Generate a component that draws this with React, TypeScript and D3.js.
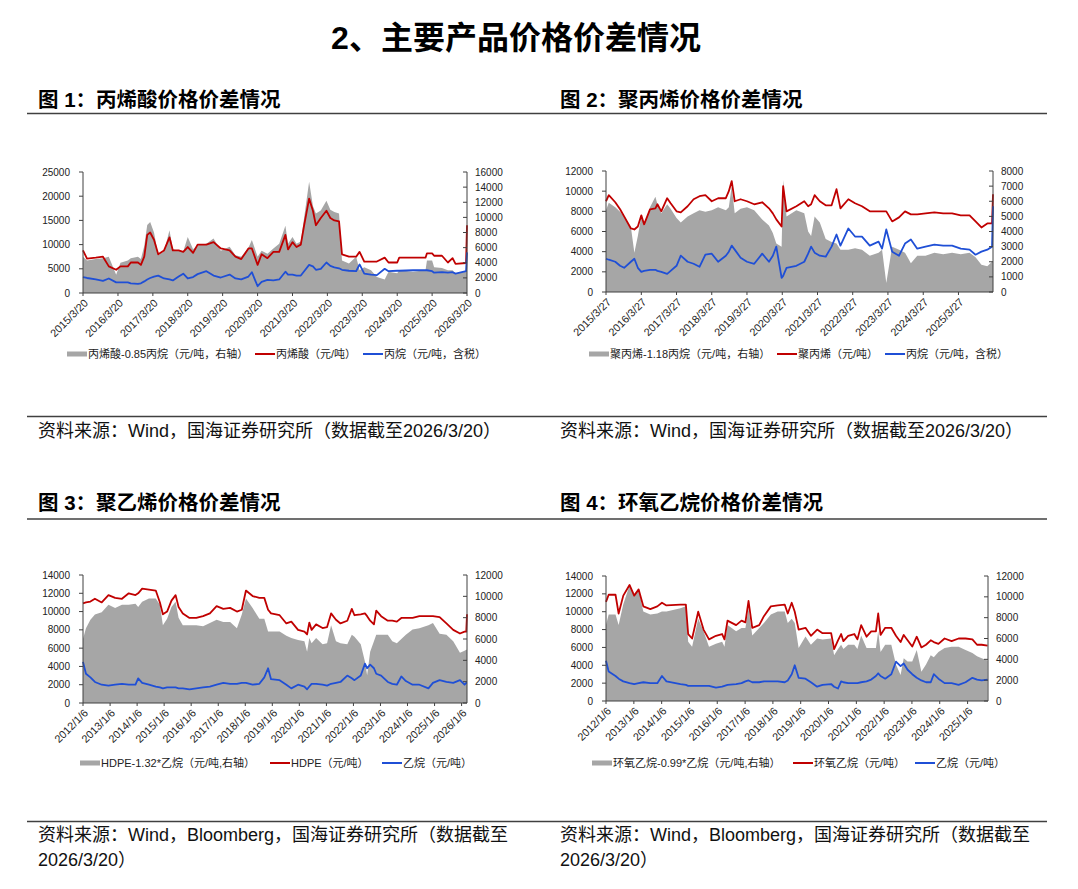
import React from "react";
import * as d3 from "d3";

// 图1：丙烯酸
const aaDates = ["2015-03-20","2015-05-01","2015-08-01","2015-10-15","2015-12-15","2016-03-01","2016-04-15","2016-07-01","2016-08-01","2016-10-15","2016-11-15","2016-12-20","2017-01-20","2017-02-20","2017-04-01","2017-05-15","2017-07-15","2017-09-10","2017-10-15","2017-12-15","2018-02-01","2018-03-20","2018-05-15","2018-07-01","2018-10-01","2018-12-15","2019-03-01","2019-06-01","2019-08-01","2019-10-01","2019-12-15","2020-01-20","2020-03-20","2020-05-01","2020-07-01","2020-09-01","2020-11-01","2021-01-05","2021-02-01","2021-03-20","2021-05-01","2021-06-15","2021-07-20","2021-09-10","2021-10-20","2021-11-20","2022-01-10","2022-03-10","2022-04-20","2022-06-01","2022-07-20","2022-08-20","2022-11-01","2023-01-15","2023-02-20","2023-04-10","2023-06-20","2023-08-20","2023-11-10","2023-12-20","2024-03-20","2024-04-10","2024-09-01","2025-01-10","2025-01-25","2025-03-20","2025-04-10","2025-07-01","2025-09-01","2025-10-20","2025-11-20","2026-03-10","2026-03-20"];
const aaPrice = [8800,7100,7300,7500,5500,4800,5500,5500,6300,6300,5800,7500,12000,12500,11000,8000,8800,11500,8800,8800,8500,9500,8300,10000,10000,10500,9200,8800,7500,7000,9200,9200,5800,8000,7200,8500,8500,12000,9000,10500,9500,10000,14000,19500,17000,14000,15500,17000,15500,15000,14800,8000,7500,7500,8500,6500,6500,6500,7300,6300,6300,7300,7300,7300,8200,8200,7700,7700,6300,7200,6000,6200,14000];
const aaPropane = [3300,3100,2800,2500,3000,2200,2200,2200,2000,1900,2000,2400,2800,3100,3400,3600,3000,2800,2600,3400,4000,3000,3300,3900,4500,3600,3200,3800,3000,2800,3400,4300,1400,2300,2700,2600,2800,4400,3800,3800,3600,3600,4500,5800,5500,4800,5000,6300,5600,5300,5100,4800,4600,4500,5900,4000,3800,3700,5000,4500,4600,4600,4700,4700,4700,4500,4200,4300,4200,4300,4000,4500,8400];
const aaSpread = [4800,4300,4500,4600,4800,2400,4000,4300,4600,4800,4500,6200,9000,9400,8000,5000,5500,8300,5800,5600,5500,7400,5800,6300,6500,7200,5600,6100,5000,4800,6000,7000,4800,5600,5200,5900,6500,8900,6500,7400,6500,6800,10000,14700,11500,10500,10900,12200,11000,10700,10500,4300,3900,4800,3000,3400,3000,2100,1800,2800,2600,3000,2800,3000,4300,4300,3400,3300,3000,3000,2600,2800,5600];
const aaTicks = ["2015/3/20","2016/3/20","2017/3/20","2018/3/20","2019/3/20","2020/3/20","2021/3/20","2022/3/20","2023/3/20","2024/3/20","2025/3/20","2026/3/20"];

// 图2：聚丙烯
const ppDates = ["2015-03-27","2015-04-25","2015-07-01","2015-08-20","2015-10-01","2015-12-10","2016-01-15","2016-02-20","2016-03-27","2016-04-25","2016-06-25","2016-08-20","2016-09-10","2016-10-20","2016-12-20","2017-01-25","2017-03-27","2017-05-10","2017-07-20","2017-09-20","2017-11-20","2018-01-20","2018-03-27","2018-06-01","2018-08-20","2018-09-20","2018-10-20","2018-11-20","2019-01-20","2019-03-27","2019-06-10","2019-09-01","2019-11-10","2019-12-20","2020-01-25","2020-03-20","2020-04-05","2020-05-10","2020-08-20","2020-11-10","2020-12-20","2021-01-20","2021-02-25","2021-04-20","2021-06-20","2021-08-20","2021-10-10","2021-11-20","2022-02-10","2022-04-20","2022-07-01","2022-09-20","2022-12-20","2023-01-25","2023-03-10","2023-05-10","2023-07-20","2023-09-20","2023-11-20","2024-01-25","2024-04-20","2024-07-20","2024-10-20","2025-01-20","2025-04-20","2025-07-20","2025-09-20","2025-11-20","2026-01-20","2026-03-10","2026-03-20"];
const ppPrice = [9000,9600,8900,8200,7500,6300,6200,6500,7600,6700,8200,8300,8700,8000,9300,8800,8000,7900,8500,9200,9500,9600,9000,9300,9300,10000,11000,9000,9200,9000,8700,8900,8300,7800,7200,6500,10500,8000,8500,9000,8500,8700,9600,9000,8600,8600,10200,8300,9200,8800,8500,8000,8000,8000,8000,7000,7400,8000,7700,7700,7800,7900,7800,7800,7600,7600,7000,6400,6800,6800,9700];
const ppPropane = [3300,3200,3000,2600,2400,3000,3300,2400,2000,2100,2200,2200,2100,2000,1800,2100,2600,3600,3000,2800,2500,3700,3800,3000,3600,4000,4600,4200,3400,3000,2800,3800,3000,3600,4500,1400,1600,2400,2600,3000,3800,4500,3900,3600,3500,4500,5700,4600,6300,5500,5500,4600,5000,4300,6200,4000,3600,4800,5200,4300,4500,4700,4600,4600,4300,4200,3700,4000,4200,4500,8500];
const ppSpread = [5400,5900,5600,5300,5000,4300,2600,3700,5000,4400,5600,6300,5800,5200,5800,5500,4900,4600,5000,5200,5400,5300,5400,5600,5400,5600,7000,5200,5500,5600,5400,4800,4400,3900,3200,3000,7400,5000,5400,5200,4000,3700,5000,4600,3500,3300,3200,2800,2800,2900,2800,2400,2600,2800,600,3000,2800,2600,1900,2400,2400,2600,2500,2600,2500,2600,2300,1800,1700,2000,2000];
const ppTicks = ["2015/3/27","2016/3/27","2017/3/27","2018/3/27","2019/3/27","2020/3/27","2021/3/27","2022/3/27","2023/3/27","2024/3/27","2025/3/27"];

// 图3：聚乙烯
const peDates = ["2012-01-06","2012-02-15","2012-04-15","2012-06-15","2012-09-15","2012-12-15","2013-03-15","2013-06-15","2013-09-15","2013-12-15","2014-01-20","2014-03-15","2014-06-15","2014-09-15","2014-11-10","2014-12-20","2015-02-15","2015-04-15","2015-06-10","2015-07-20","2015-09-15","2015-12-15","2016-03-15","2016-06-15","2016-09-15","2016-12-15","2017-03-15","2017-06-15","2017-09-15","2017-11-20","2018-01-15","2018-04-15","2018-07-15","2018-09-20","2018-11-10","2018-12-20","2019-04-15","2019-07-15","2019-09-20","2019-12-20","2020-03-15","2020-04-20","2020-05-20","2020-06-20","2020-08-20","2020-11-15","2021-01-15","2021-03-10","2021-05-15","2021-07-15","2021-10-15","2021-12-15","2022-01-20","2022-04-15","2022-06-10","2022-07-10","2022-08-20","2022-10-10","2022-11-10","2023-01-15","2023-04-15","2023-06-15","2023-08-15","2023-10-15","2023-12-15","2024-03-15","2024-06-15","2024-10-15","2024-12-15","2025-03-15","2025-06-15","2025-09-15","2025-12-15","2026-02-15","2026-03-10","2026-03-20"];
const pePrice = [10900,11000,11100,11400,11000,11800,11500,11400,12000,11800,12000,12500,12400,12300,11000,9700,10000,11200,11800,10500,9800,9300,9300,9500,9800,10600,10300,10400,10000,10200,12300,11700,11500,11500,10200,9800,9600,8700,8900,8000,7800,7500,8800,8000,8600,8200,8300,9800,9100,8700,9000,10300,9600,9700,9800,9500,9000,8600,10100,9500,9000,9000,8900,9300,9300,9300,9500,9500,9500,9400,8700,8000,7600,7800,7800,9700];
const peEthane = [4500,3200,2800,2300,2000,1900,2000,2100,2000,2000,2700,2200,2000,1800,1700,1600,1700,1700,1700,1600,1600,1500,1600,1700,1800,2000,2200,2100,2100,2200,2200,2000,2100,2800,3800,2600,2500,2000,1600,2000,1800,1500,1800,2100,2100,2000,1900,2100,2200,2300,3000,2700,2500,3000,4300,3800,4200,3800,3200,3000,2300,2100,2000,2900,2400,2000,2000,1600,2200,2500,2300,2200,2500,2000,2200,2200];
const peSpread = [6000,7000,7800,8300,8500,9200,8900,9200,9200,9300,9000,9500,9800,9800,9200,7300,7900,9000,9500,8000,7300,7300,7300,7200,7500,7800,7600,7600,7000,8300,9800,8900,7900,7900,6700,6700,6700,6300,6100,5900,5800,4800,6100,5600,6100,5500,5600,7300,5800,5600,5500,6400,6200,5500,3900,2600,4800,5800,6400,6400,6400,5800,5600,6000,6400,6900,7000,7300,7500,6500,6400,5800,4700,4900,5000,5000];
const peTicks = ["2012/1/6","2013/1/6","2014/1/6","2015/1/6","2016/1/6","2017/1/6","2018/1/6","2019/1/6","2020/1/6","2021/1/6","2022/1/6","2023/1/6","2024/1/6","2025/1/6","2026/1/6"];

// 图4：环氧乙烷
const eoDates = ["2012-01-06","2012-02-10","2012-05-10","2012-06-20","2012-08-20","2012-11-10","2013-01-10","2013-03-10","2013-05-10","2013-08-10","2013-11-10","2014-01-10","2014-03-10","2014-09-10","2014-11-20","2014-12-20","2015-02-10","2015-05-01","2015-07-10","2015-09-20","2015-12-20","2016-03-10","2016-04-10","2016-05-20","2016-09-10","2016-11-20","2017-01-10","2017-02-20","2017-04-10","2017-07-10","2017-09-10","2017-12-10","2018-03-10","2018-06-10","2018-07-20","2018-09-10","2018-10-20","2018-12-10","2019-03-10","2019-05-20","2019-08-10","2019-10-20","2020-02-10","2020-03-20","2020-05-10","2020-06-20","2020-07-20","2020-09-20","2020-12-10","2021-01-20","2021-03-10","2021-05-20","2021-07-20","2021-09-20","2021-10-20","2021-11-20","2022-01-20","2022-04-10","2022-06-10","2022-08-10","2022-09-20","2022-11-10","2023-01-10","2023-03-10","2023-05-10","2023-07-10","2023-09-10","2023-10-20","2023-12-20","2024-03-10","2024-06-10","2024-09-10","2024-12-10","2025-03-10","2025-05-10","2025-07-10","2025-09-25"];
const eoPrice = [11100,11900,11900,9800,11800,13000,11800,12500,10600,10300,10600,11000,10700,10800,10800,7500,7000,10000,8000,6900,7300,7500,6900,9000,8500,9000,8800,11200,8200,8500,9500,10600,10700,10800,9800,11000,10000,8000,8200,7300,8000,7600,7600,5800,6800,7500,6700,7300,7500,6900,8500,7200,7800,7800,9800,7400,8200,8200,7300,6600,7400,6800,6100,7200,6000,6300,6800,6600,6400,7000,6700,7000,7000,6900,6300,6300,6200];
const eoEthane = [4500,3300,2800,2500,2200,2000,1900,2000,2100,2000,2000,2800,2200,1900,1800,1700,1700,1700,1700,1700,1500,1600,1700,1800,1900,2000,2200,2300,2100,2100,2200,2200,2200,2100,2300,3000,4000,2600,2500,2100,1600,1800,1900,1600,1400,2200,2100,2000,2000,2000,2100,2200,2400,2800,3100,2800,2500,3000,4400,3900,4200,3500,3000,2600,2300,2100,2100,3000,2500,2000,2000,1800,2100,2600,2400,2300,2400];
const eoSpread = [7300,8300,8300,7300,9300,11100,10200,10700,8600,8300,8400,8600,8600,8900,9100,5700,5200,7900,6700,5200,5500,5700,5200,7300,6700,7000,7000,8900,6300,7000,7500,8300,8600,8600,7500,7900,7500,5100,6200,5400,6000,5900,6000,4400,5000,5400,5000,5400,5400,5000,6300,5100,5100,5100,6700,4700,5400,5400,3500,2500,4100,3800,3800,4900,2800,3500,4400,4200,4700,5100,5200,5200,4900,4600,4300,4100,3900];
const eoTicks = ["2012/1/6","2013/1/6","2014/1/6","2015/1/6","2016/1/6","2017/1/6","2018/1/6","2019/1/6","2020/1/6","2021/1/6","2022/1/6","2023/1/6","2024/1/6","2025/1/6"];

const RED = "#c00000";
const BLUE = "#1f4fd6";
const GRAY = "#a6a6a6";
const NUM_FONT = "'Liberation Sans', Arial, sans-serif";
const CJK_FONT = "'Liberation Sans', 'Noto Sans CJK SC', sans-serif";

const parseDay = d3.timeParse("%Y-%m-%d");
const parseTick = d3.timeParse("%Y/%m/%d");

const panels = [
  {
    dates: aaDates, red: aaPrice, blue: aaPropane, gray: aaSpread, ticks: aaTicks,
    domain: ["2015-03-20", "2026-03-20"], leftMax: 25000, leftStep: 5000, rightMax: 16000, rightStep: 2000,
    box: {x0: 83, x1: 467, y0: 172, y1: 293},
    legend: ["丙烯酸-0.85丙烷（元/吨，右轴）", "丙烯酸（元/吨）", "丙烷（元/吨，含税）"],
    legendX: [67, 255, 363], legendY: 354,
  },
  {
    dates: ppDates, red: ppPrice, blue: ppPropane, gray: ppSpread, ticks: ppTicks,
    domain: ["2015-03-27", "2026-03-20"], leftMax: 12000, leftStep: 2000, rightMax: 8000, rightStep: 1000,
    box: {x0: 606, x1: 993, y0: 171, y1: 292},
    legend: ["聚丙烯-1.18丙烷（元/吨，右轴）", "聚丙烯（元/吨）", "丙烷（元/吨，含税）"],
    legendX: [589, 777, 885], legendY: 354,
  },
  {
    dates: peDates, red: pePrice, blue: peEthane, gray: peSpread, ticks: peTicks,
    domain: ["2012-01-06", "2026-03-20"], leftMax: 14000, leftStep: 2000, rightMax: 12000, rightStep: 2000,
    box: {x0: 83, x1: 467, y0: 575, y1: 703},
    legend: ["HDPE-1.32*乙烷（元/吨,右轴）", "HDPE（元/吨）", "乙烷（元/吨）"],
    legendX: [80, 270, 382], legendY: 763,
  },
  {
    dates: eoDates, red: eoPrice, blue: eoEthane, gray: eoSpread, ticks: eoTicks,
    domain: ["2012-01-06", "2025-10-01"], leftMax: 14000, leftStep: 2000, rightMax: 12000, rightStep: 2000,
    box: {x0: 606, x1: 988, y0: 576, y1: 701},
    legend: ["环氧乙烷-0.99*乙烷（元/吨,右轴）", "环氧乙烷（元/吨）", "乙烷（元/吨）"],
    legendX: [592, 793, 915], legendY: 763,
  },
];

const Panel = ({cfg}: {cfg: any}) => {
  const {x0, x1, y0, y1} = cfg.box;
  const dates = cfg.dates.map(parseDay);
  const x = d3.scaleTime().domain(cfg.domain.map(parseDay)).range([x0, x1]);
  const yL = d3.scaleLinear().domain([0, cfg.leftMax]).range([y1, y0]);
  const yR = d3.scaleLinear().domain([0, cfg.rightMax]).range([y1, y0]);

  const area = d3.area<number>().x((d, i) => x(dates[i])).y0(yR(0)).y1(d => yR(d));
  const line = d3.line<number>().x((d, i) => x(dates[i])).y(d => yL(d));

  const leftTicks = d3.range(0, cfg.leftMax + 1, cfg.leftStep);
  const rightTicks = d3.range(0, cfg.rightMax + 1, cfg.rightStep);

  return (
    <g>
      <path d={area(cfg.gray) || ""} fill={GRAY}/>
      <path d={line(cfg.red) || ""} fill="none" stroke={RED} strokeWidth={1.8} strokeLinejoin="round"/>
      <path d={line(cfg.blue) || ""} fill="none" stroke={BLUE} strokeWidth={1.8} strokeLinejoin="round"/>

      {/* left axis */}
      <line x1={x0} x2={x0} y1={y0} y2={y1} stroke="#404040"/>
      {leftTicks.map(t => (
        <g key={"l" + t}>
          <line x1={x0 - 4} x2={x0} y1={yL(t)} y2={yL(t)} stroke="#404040"/>
          <text x={x0 - 13} y={yL(t)} dy="0.35em" textAnchor="end" fontSize={10} fontFamily={NUM_FONT} fill="#222">{t}</text>
        </g>
      ))}

      {/* right axis */}
      <line x1={x1} x2={x1} y1={y0} y2={y1} stroke="#404040"/>
      {rightTicks.map(t => (
        <g key={"r" + t}>
          <line x1={x1 - 4} x2={x1} y1={yR(t)} y2={yR(t)} stroke="#404040"/>
          <text x={x1 + 8} y={yR(t)} dy="0.35em" textAnchor="start" fontSize={10} fontFamily={NUM_FONT} fill="#222">{t}</text>
        </g>
      ))}

      {/* bottom axis */}
      <line x1={x0} x2={x1} y1={y1} y2={y1} stroke="#404040"/>
      {cfg.ticks.map((t: string) => {
        const tx = x(parseTick(t) as Date);
        return (
          <g key={t}>
            <line x1={tx} x2={tx} y1={y1} y2={y1 + 3} stroke="#404040"/>
            <text transform={`translate(${tx + 3},${y1 + 8}) rotate(-45)`} textAnchor="end" dy="0.35em"
                  fontSize={10.8} fontFamily={NUM_FONT} fill="#222">{t}</text>
          </g>
        );
      })}

      {/* legend */}
      <rect x={cfg.legendX[0]} y={cfg.legendY - 2.5} width={20} height={5} fill={GRAY}/>
      <text x={cfg.legendX[0] + 21} y={cfg.legendY} dy="0.35em" fontSize={11} fontFamily={CJK_FONT} fill="#222">{cfg.legend[0]}</text>
      <line x1={cfg.legendX[1]} x2={cfg.legendX[1] + 20} y1={cfg.legendY} y2={cfg.legendY} stroke={RED} strokeWidth={2}/>
      <text x={cfg.legendX[1] + 21} y={cfg.legendY} dy="0.35em" fontSize={11} fontFamily={CJK_FONT} fill="#222">{cfg.legend[1]}</text>
      <line x1={cfg.legendX[2]} x2={cfg.legendX[2] + 20} y1={cfg.legendY} y2={cfg.legendY} stroke={BLUE} strokeWidth={2}/>
      <text x={cfg.legendX[2] + 21} y={cfg.legendY} dy="0.35em" fontSize={11} fontFamily={CJK_FONT} fill="#222">{cfg.legend[2]}</text>
    </g>
  );
};

const App = () => {
  const titleFont = "'Liberation Sans', 'Noto Sans CJK SC', sans-serif";
  const src1 = "资料来源：Wind，国海证券研究所（数据截至2026/3/20）";
  const src2 = "资料来源：Wind，Bloomberg，国海证券研究所（数据截至";

  return (
    <svg width={1078} height={889} style={{position: "absolute", left: 0, top: 0, background: "#fff"}}>
      <text x={516} y={49} textAnchor="middle" fontSize={32} fontWeight={700} fontFamily={titleFont} fill="#000">2、主要产品价格价差情况</text>

      <text x={38} y={107} fontSize={20.5} fontWeight={700} fontFamily={titleFont} fill="#000">图 1：丙烯酸价格价差情况</text>
      <text x={560} y={107} fontSize={20.5} fontWeight={700} fontFamily={titleFont} fill="#000">图 2：聚丙烯价格价差情况</text>
      <line x1={27} x2={1047} y1={113.5} y2={113.5} stroke="#404040" strokeWidth={1.5}/>

      {panels.map((p, i) => <Panel key={i} cfg={p}/>)}

      <line x1={27} x2={1047} y1={416.5} y2={416.5} stroke="#404040" strokeWidth={1.5}/>
      <text x={38} y={437} fontSize={18} fontFamily={CJK_FONT} fill="#111">{src1}</text>
      <text x={560} y={437} fontSize={18} fontFamily={CJK_FONT} fill="#111">{src1}</text>

      <text x={38} y={510} fontSize={20.5} fontWeight={700} fontFamily={titleFont} fill="#000">图 3：聚乙烯价格价差情况</text>
      <text x={560} y={510} fontSize={20.5} fontWeight={700} fontFamily={titleFont} fill="#000">图 4：环氧乙烷价格价差情况</text>
      <line x1={27} x2={1047} y1={519} y2={519} stroke="#404040" strokeWidth={1.5}/>

      <line x1={27} x2={1047} y1={821.5} y2={821.5} stroke="#404040" strokeWidth={1.5}/>
      <text x={38} y={841} fontSize={18} fontFamily={CJK_FONT} fill="#111">{src2}</text>
      <text x={38} y={866} fontSize={18} fontFamily={CJK_FONT} fill="#111">2026/3/20）</text>
      <text x={560} y={841} fontSize={18} fontFamily={CJK_FONT} fill="#111">{src2}</text>
      <text x={560} y={866} fontSize={18} fontFamily={CJK_FONT} fill="#111">2026/3/20）</text>
    </svg>
  );
};

export default App;
